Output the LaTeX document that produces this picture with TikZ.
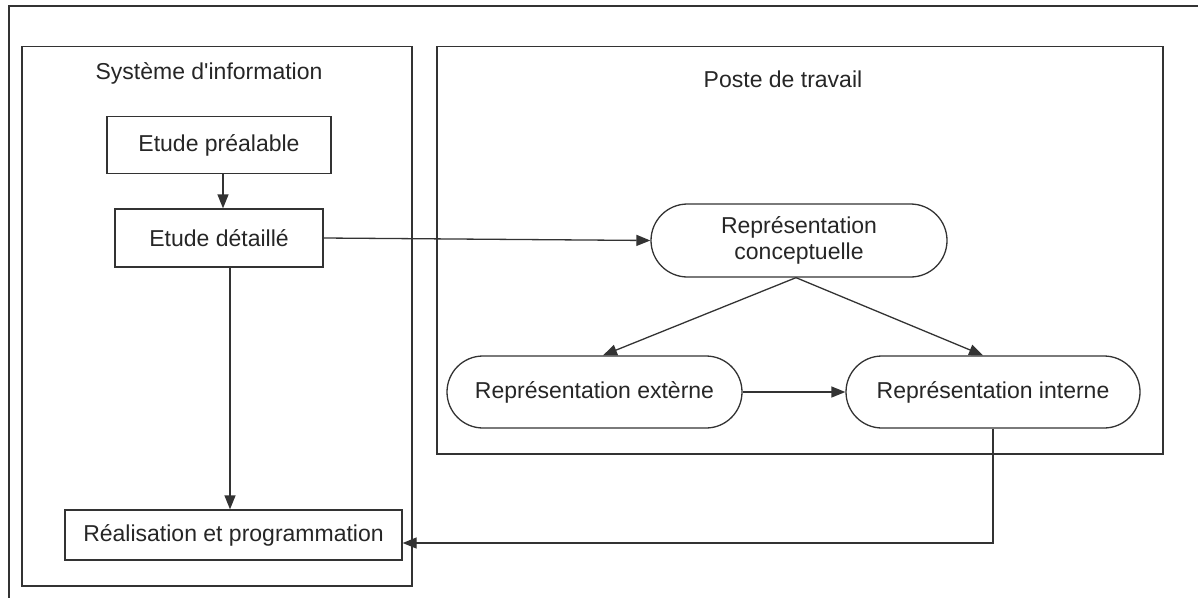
\documentclass[tikz,border=0pt]{standalone}
\usepackage{fontspec}
\setmainfont{Liberation Sans}
\usetikzlibrary{arrows.meta,shapes.misc,calc}
\begin{document}
\begin{tikzpicture}[x=1pt,y=-1pt,
  txt/.style={font=\fontsize{23}{26}\selectfont, text=black!85},
  frame/.style={draw=black!80, line width=1.3pt},
  box/.style={frame, txt, rectangle, inner sep=0pt},
  pill/.style={frame, txt, rounded rectangle, inner sep=0pt, align=center},
  arr/.style={draw=black!80, line width=1.3pt, -{Triangle[length=14pt,width=11pt]}}]
\useasboundingbox (0,0) rectangle (1198,597);
\clip (0,0) rectangle (1198,597);

% enclosing frames
\draw[frame] (9,6) rectangle (1215,615);
\draw[frame] (22,46.5) rectangle (412,586);
\draw[frame] (437,46.5) rectangle (1163,454);

% frame titles
\node[txt] (tsi) at (209,73) {Système d\textquotesingle information};
\node[txt] (tpt) at (783,79) {Poste de travail};

% information system steps
\node[box, minimum width=224pt, minimum height=57pt] (ep) at (219,145) {Etude préalable};
\node[box, minimum width=208pt, minimum height=58pt] (ed) at (219,238) {Etude détaillé};
\node[box, minimum width=337pt, minimum height=50pt] (rp) at (233.5,535) {Réalisation et programmation};

% workstation representations
\node[pill, minimum width=296pt, minimum height=73pt] (rc) at (799,240.5) {Représentation\\conceptuelle};
\node[pill, minimum width=295pt, minimum height=72pt] (re) at (594.5,392) {Représentation extèrne};
\node[pill, minimum width=294pt, minimum height=72pt] (ri) at (993,392) {Représentation interne};

% connectors
\draw[arr] ($(ep.south)+(4,0)$) -- ($(ed.north)+(4,0)$);
\draw[arr] ($(ed.south)+(11,0)$) -- ($(rp.north)+(-3.5,0)$);
\draw[arr] (ed.east) -- (rc.west);
\draw[arr] ($(rc.south)+(-3,0)$) -- ($(re.north)+(8.5,0)$);
\draw[arr] ($(rc.south)+(-3,0)$) -- ($(ri.north)+(-10,0)$);
\draw[arr] (re.east) -- (ri.west);
\draw[arr] (ri.south) |- ($(rp.east)+(0,8)$);
\end{tikzpicture}
\end{document}
